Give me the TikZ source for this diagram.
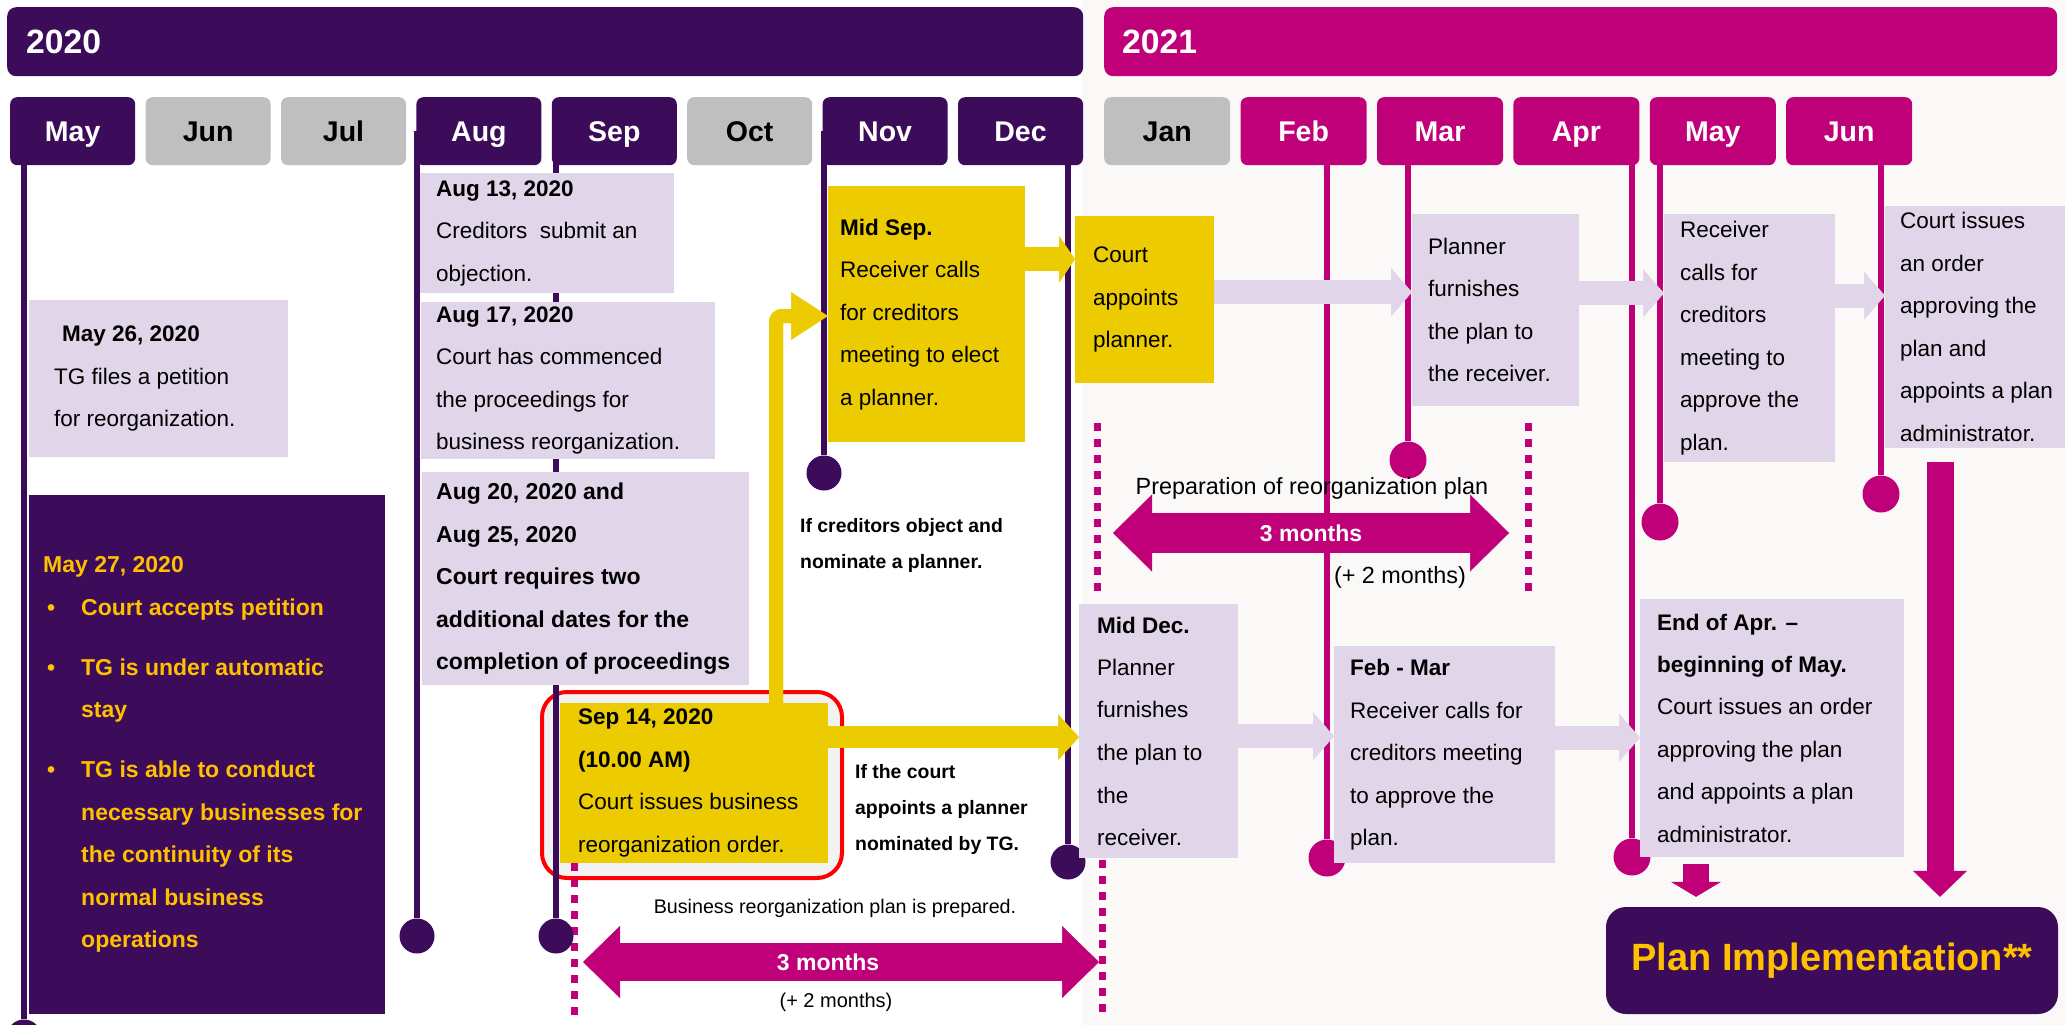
\documentclass[tikz,border=0pt]{standalone}
\usepackage{fontspec}
\setmainfont{Liberation Sans}
\usepackage{tikz}
\usetikzlibrary{positioning, arrows.meta, calc}
\definecolor{deeppurple}{RGB}{60, 11, 89}
\definecolor{magenta21}{RGB}{192, 0, 120}
\definecolor{lavender}{RGB}{225, 213, 234}
\definecolor{monthgray}{RGB}{191, 191, 191}
\definecolor{boxyellow}{RGB}{236, 204, 0}
\definecolor{goldtext}{RGB}{255, 192, 0}
\definecolor{offwhite}{RGB}{250, 249, 247}
\definecolor{redframe}{RGB}{255, 0, 0}
\definecolor{framefill}{RGB}{242, 242, 242}
\pgfdeclarelayer{back}
\pgfdeclarelayer{lines}
\pgfsetlayers{back,lines,main}
\newcommand{\ybullet}{\makebox[38pt][l]{\hspace{4pt}\textbullet}}

\begin{document}
\begin{tikzpicture}[x=1pt, y=-1pt,
  yearbar/.style={rectangle, rounded corners=9pt, inner sep=0pt, anchor=north west, minimum height=69pt},
  yeartext/.style={text=white, inner sep=0pt, font=\bfseries\fontsize{33.7}{36}\selectfont},
  monthbox/.style={rectangle, rounded corners=7pt, inner sep=0pt, minimum width=125pt, minimum height=68pt,
    text height=20.5pt, text depth=0pt, font=\bfseries\fontsize{28.5}{30}\selectfont},
  pmonth/.style={monthbox, fill=deeppurple, text=white},
  gmonth/.style={monthbox, fill=monthgray, text=black},
  mmonth/.style={monthbox, fill=magenta21, text=white, minimum width=126pt},
  eventbox/.style={rectangle, inner sep=0pt, anchor=north west, fill=lavender},
  ybox/.style={eventbox, fill=boxyellow},
  eventtext/.style={anchor=west, align=left, inner sep=0pt, font=\fontsize{22.5}{42.5}\selectfont},
  boldtext/.style={eventtext, font=\bfseries\fontsize{23}{42.5}\selectfont},
  note/.style={anchor=west, align=left, inner sep=0pt, font=\bfseries\fontsize{19.4}{36}\selectfont},
  plain/.style={inner sep=0pt, font=\fontsize{23.4}{26}\selectfont},
  months/.style={inner sep=0pt, text=white, font=\bfseries\fontsize{23}{26}\selectfont},
  pdot/.style={circle, fill=deeppurple, inner sep=0pt, minimum size=35pt},
  mdot/.style={circle, fill=magenta21, inner sep=0pt, minimum size=37pt},
  pline/.style={draw=deeppurple, line width=6pt},
  mline/.style={draw=magenta21, line width=6pt},
  dotline/.style={draw=magenta21, line width=7pt, dash pattern=on 8pt off 8pt},
  lavarrow/.style={draw=lavender, line width=24pt, -{Triangle[width=48pt, length=21pt, line width=0.5pt]},
    postaction={draw=lavender, line width=24pt, -, shorten >=18pt}},
  yelarrow/.style={draw=boxyellow, line width=24pt, -{Triangle[width=47pt, length=16pt, line width=0.5pt]},
    postaction={draw=boxyellow, line width=24pt, -, shorten >=13pt}},
  downarrow/.style={draw=magenta21, line width=27pt, -{Triangle[width=54pt, length=26pt, line width=0.5pt]},
    postaction={draw=magenta21, line width=27pt, -, shorten >=23pt}},
  spanarrow/.style={draw=magenta21, line width=38pt,
    {Triangle[width=72pt, length=37pt, line width=0.5pt]}-{Triangle[width=72pt, length=37pt, line width=0.5pt]},
    postaction={draw=magenta21, line width=38pt, -, shorten <=34pt, shorten >=34pt}}
]
\useasboundingbox (0,0) rectangle (2065,1025);

% Backgrounds
\begin{pgfonlayer}{back}
\fill[white] (0,0) rectangle (2065,1025);
\fill[offwhite] (1082,0) rectangle (2065,1025);
\node[rectangle, anchor=north west, draw=redframe, line width=4pt, fill=framefill, rounded corners=25pt,
      minimum width=300pt, minimum height=186pt] (sep14-frame) at (540,690) {};
\end{pgfonlayer}

% Year bars
\node[yearbar, fill=deeppurple, minimum width=1076pt] (y2020) at (7,7) {};
\node[yeartext, right=19pt of y2020.west] (y2020-t) {2020};
\node[yearbar, fill=magenta21, minimum width=953pt] (y2021) at (1104,7) {};
\node[yeartext, right=18pt of y2021.west] (y2021-t) {2021};

% Months 2020
\node[pmonth, anchor=north west] (mmay) at (10,97) {May};
\node[gmonth, right=10pt of mmay] (mjun) {Jun};
\node[gmonth, right=10pt of mjun] (mjul) {Jul};
\node[pmonth, right=10pt of mjul] (maug) {Aug};
\node[pmonth, right=10pt of maug] (msep) {Sep};
\node[gmonth, right=10pt of msep] (moct) {Oct};
\node[pmonth, right=10pt of moct] (mnov) {Nov};
\node[pmonth, right=10pt of mnov] (mdec) {Dec};

% Months 2021
\node[gmonth, minimum width=126pt, anchor=north west] (mjan) at (1104,97) {Jan};
\node[mmonth, right=10pt of mjan] (mfeb) {Feb};
\node[mmonth, right=10pt of mfeb] (mmar) {Mar};
\node[mmonth, right=10pt of mmar] (mapr) {Apr};
\node[mmonth, right=10pt of mapr] (mmay21) {May};
\node[mmonth, right=10pt of mmay21] (mjun21) {Jun};

% Timeline dots
\node[pdot] (dmay) at (24,1037) {};
\node[pdot] (daug) at (417,936) {};
\node[pdot] (dsep) at (556,936) {};
\node[pdot] (dnov) at (824,473) {};
\node[pdot] (ddec) at (1068,862) {};
\node[mdot] (dfeb) at (1327,858) {};
\node[mdot] (dmar) at (1408,460) {};
\node[mdot] (dapr) at (1632,857) {};
\node[mdot] (dmay21) at (1660,522) {};
\node[mdot] (djun21) at (1881,494) {};

% 2020 events
\node[eventbox, minimum width=259pt, minimum height=157pt] (may26) at (29,300) {};
\node[eventtext] (may26-t) at ([xshift=25pt]may26.west)
  {\hspace*{8pt}\textbf{May 26, 2020}\\TG files a petition\\for reorganization.};

\node[eventbox, fill=deeppurple, minimum width=356pt, minimum height=519pt] (may27) at (29,495) {};
\node[boldtext, text=goldtext] (may27-t) at ([xshift=14pt]may27.west)
  {May 27, 2020\\
   \ybullet Court accepts petition\\[17.5pt]
   \ybullet TG is under automatic\\
   \hspace*{38pt}stay\\[17.5pt]
   \ybullet TG is able to conduct\\
   \hspace*{38pt}necessary businesses for\\
   \hspace*{38pt}the continuity of its\\
   \hspace*{38pt}normal business\\
   \hspace*{38pt}operations};

\node[eventbox, minimum width=254pt, minimum height=120pt] (aug13) at (420,173) {};
\node[eventtext] (aug13-t) at ([xshift=16pt]aug13.west)
  {\textbf{Aug 13, 2020}\\Creditors\ \ submit an\\objection.};

\node[eventbox, minimum width=294pt, minimum height=157pt] (aug17) at (421,302) {};
\node[eventtext] (aug17-t) at ([xshift=15pt]aug17.west)
  {\textbf{Aug 17, 2020}\\Court has commenced\\the proceedings for\\business reorganization.};

\node[eventbox, minimum width=327pt, minimum height=213pt] (aug20) at (422,472) {};
\node[boldtext] (aug20-t) at ([xshift=14pt]aug20.west)
  {Aug 20, 2020 and\\Aug 25, 2020\\Court requires two\\additional dates for the\\completion of proceedings};

\node[ybox, minimum width=268pt, minimum height=160pt] (sep14) at (560,703) {};
\node[eventtext] (sep14-t) at ([xshift=18pt]sep14.west)
  {\textbf{Sep 14, 2020}\\\textbf{(10.00 AM)}\\Court issues business\\reorganization order.};

\node[ybox, minimum width=197pt, minimum height=256pt] (midsep) at (828,186) {};
\node[eventtext] (midsep-t) at ([xshift=12pt]midsep.west)
  {\textbf{Mid Sep.}\\Receiver calls\\for creditors\\meeting to elect\\a planner.};

% 2021 events
\node[ybox, minimum width=139pt, minimum height=167pt] (appoint) at (1075,216) {};
\node[eventtext] (appoint-t) at ([xshift=18pt]appoint.west)
  {Court\\appoints\\planner.};

\node[eventbox, minimum width=167pt, minimum height=192pt] (furnish) at (1412,214) {};
\node[eventtext] (furnish-t) at ([xshift=16pt]furnish.west)
  {Planner\\furnishes\\the plan to\\the receiver.};

\node[eventbox, minimum width=171pt, minimum height=248pt] (recvcall) at (1664,214) {};
\node[eventtext] (recvcall-t) at ([xshift=16pt]recvcall.west)
  {Receiver\\calls for\\creditors\\meeting to\\approve the\\plan.};

\node[eventbox, minimum width=190pt, minimum height=242pt] (approve) at (1885,206) {};
\node[eventtext] (approve-t) at ([xshift=15pt]approve.west)
  {Court issues\\an order\\approving the\\plan and\\appoints a plan\\administrator.};

\node[eventbox, minimum width=159pt, minimum height=254pt] (middec) at (1079,604) {};
\node[eventtext] (middec-t) at ([xshift=18pt]middec.west)
  {\textbf{Mid Dec.}\\Planner\\furnishes\\the plan to\\the\\receiver.};

\node[eventbox, minimum width=221pt, minimum height=217pt] (febmar) at (1334,646) {};
\node[eventtext] (febmar-t) at ([xshift=16pt]febmar.west)
  {\textbf{Feb - Mar}\\Receiver calls for\\creditors meeting\\to approve the\\plan.};

\node[eventbox, minimum width=264pt, minimum height=258pt] (endapr) at (1640,599) {};
\node[eventtext] (endapr-t) at ([xshift=17pt]endapr.west)
  {\textbf{End of Apr. --}\\\textbf{beginning of May.}\\Court issues an order\\approving the plan\\and appoints a plan\\administrator.};

\node[rectangle, fill=deeppurple, rounded corners=20pt, minimum width=452pt, minimum height=107pt,
      text=goldtext, font=\bfseries\fontsize{38}{40}\selectfont] (impl) at (1832,960.5) {Plan Implementation**};

% Notes
\node[note] (objnote) at (800,545) {If creditors object and\\nominate a planner.};
\node[note] (tgnote) at (855,809) {If the court\\appoints a planner\\nominated by TG.};

% Timelines
\begin{pgfonlayer}{lines}
\draw[pline] (dmay) -- (dmay |- mmay.center);
\draw[pline] (daug) -- (daug |- maug.center);
\draw[pline] (dsep) -- (dsep |- msep.center);
\draw[pline] (dnov) -- (dnov |- mnov.center);
\draw[pline] (ddec) -- (ddec |- mdec.center);
\draw[mline] (dfeb) -- (dfeb |- mfeb.center);
\draw[mline] (dmar) -- (dmar |- mmar.center);
\draw[mline] (dapr) -- (dapr |- mapr.center);
\draw[mline] (dmay21) -- (dmay21 |- mmay21.center);
\draw[mline] (djun21) -- (djun21 |- mjun21.center);
\draw[dotline] (574,863) -- (574,1020);
\draw[dotline] (1097,423) -- (1097,596);
\draw[dotline] (1102,860) -- (1102,1017);
\draw[dotline] (1528,423) -- (1528,596);
\end{pgfonlayer}

% Flow arrows
\coordinate (elbow) at (776,316);
\draw[draw=boxyellow, line width=14pt, rounded corners=6pt,
      -{Triangle[width=48pt, length=37pt, line width=0.5pt]},
      postaction={draw=boxyellow, line width=14pt, -, shorten >=34pt}]
  (elbow |- sep14.north) -- (elbow) -- (elbow -| midsep.west);
\draw[yelarrow] ([yshift=55pt]midsep.east) -- ([yshift=55pt]midsep.east -| appoint.west);
\draw[lavarrow] ([yshift=7.5pt]appoint.east) -- ([yshift=7.5pt]appoint.east -| furnish.west);
\draw[lavarrow] ([yshift=17pt]furnish.east) -- ([yshift=17pt]furnish.east -| recvcall.west);
\draw[lavarrow] ([yshift=42.5pt]recvcall.east) -- ([yshift=42.5pt]recvcall.east -| approve.west);
\draw[draw=boxyellow, line width=22pt, -{Triangle[width=46pt, length=21pt, line width=0.5pt]},
      postaction={draw=boxyellow, line width=22pt, -, shorten >=18pt}]
  ([yshift=46pt]sep14.east) -- ([yshift=46pt]sep14.east -| middec.west);
\draw[lavarrow] ([yshift=-5pt]middec.east) -- ([yshift=-5pt]middec.east -| febmar.west);
\draw[lavarrow] ([yshift=17pt]febmar.east) -- ([yshift=17pt]febmar.east -| endapr.west);

% Arrows into plan implementation
\coordinate (bigtop) at (1940,462);
\coordinate (smalltop) at (1696,864);
\draw[downarrow] (bigtop) -- ([yshift=10pt]bigtop |- impl.north);
\draw[draw=magenta21, line width=26pt, -{Triangle[width=50pt, length=15pt, line width=0.5pt]},
      postaction={draw=magenta21, line width=26pt, -, shorten >=12pt}]
  (smalltop) -- ([yshift=10pt]smalltop |- impl.north);

% Duration spans
\coordinate (orderspan-l) at (583,962);
\coordinate (orderspan-r) at (1099,962);
\draw[spanarrow] (orderspan-l) -- (orderspan-r)
  node[months, pos=0.475] (orderspan-t) {3 months};
\node[plain, font=\fontsize{19.7}{22}\selectfont] (orderspan-top) at (835,908) {Business reorganization plan is prepared.};
\node[plain, font=\fontsize{20}{22}\selectfont] (orderspan-ext) at (836,1002) {(+ 2 months)};

\coordinate (prepspan-l) at (1113,533);
\coordinate (prepspan-r) at (1509,533);
\draw[draw=magenta21, line width=40pt,
      {Triangle[width=77pt, length=39pt, line width=0.5pt]}-{Triangle[width=77pt, length=39pt, line width=0.5pt]},
      postaction={draw=magenta21, line width=40pt, -, shorten <=36pt, shorten >=36pt}]
  (prepspan-l) -- (prepspan-r) node[months, midway] (prepspan-t) {3 months};
\node[plain] (prepspan-top) at (1312,488) {Preparation of reorganization plan};
\node[plain] (prepspan-ext) at (1400,577) {(+ 2 months)};

\end{tikzpicture}
\end{document}
